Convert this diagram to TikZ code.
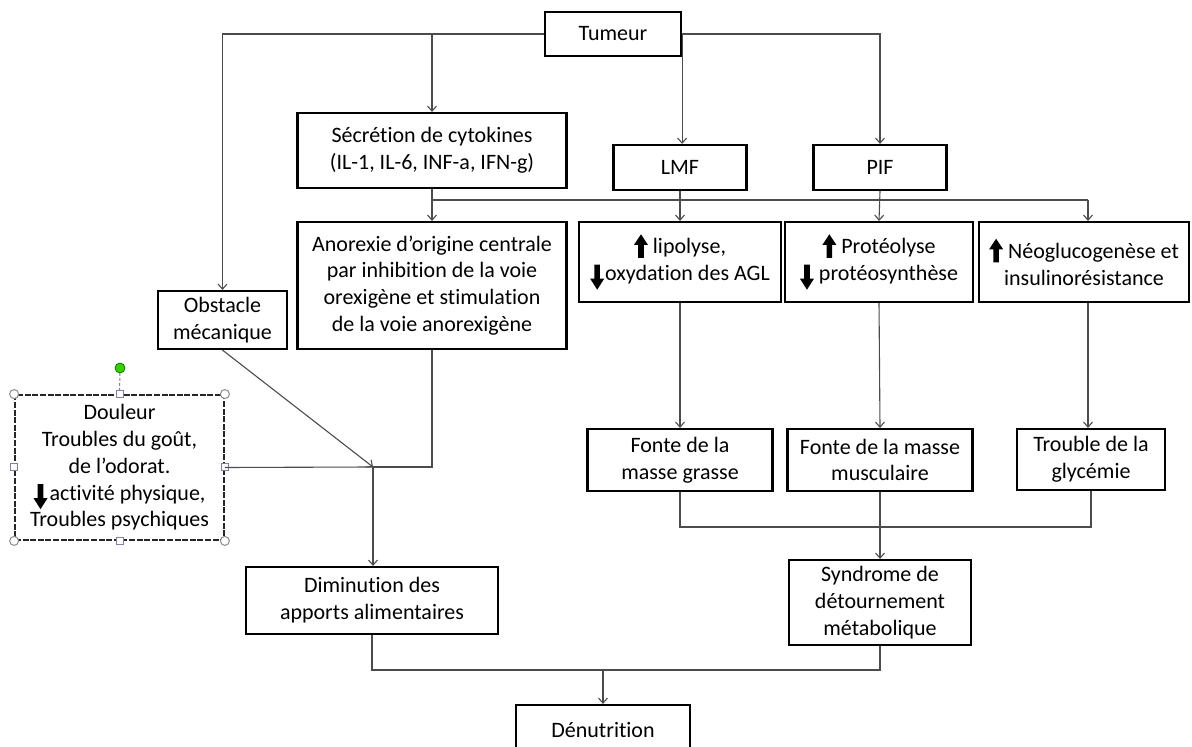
\documentclass[tikz,border=0pt]{standalone}
\usepackage{fontspec}
\setmainfont[Ligatures={NoCommon}]{Carlito}
\usetikzlibrary{arrows.meta}
\newcommand\upa{\tikz[baseline=0pt,x=1pt,y=1pt]\fill[black] (-1.4,-2)--(1.4,-2)--(1.4,4.5)--(3.5,4.5)--(0,9.8)--(-3.5,4.5)--(-1.4,4.5)--cycle;}
\newcommand\dna{\tikz[baseline=0pt,x=1pt,y=1pt]\fill[black] (-1.4,8)--(1.4,8)--(1.4,1)--(3.5,1)--(0,-4.5)--(-3.5,1)--(-1.4,1)--cycle;}
\begin{document}
\begin{tikzpicture}[x=0.5pt,y=-0.5pt,
  box/.style={draw=black,line width=1.1pt,fill=white,align=center,inner sep=0pt,
    font=\fontsize{11}{13.4}\selectfont},
  line/.style={draw=black!70,line width=0.55pt},
  conn/.style={line,-{Straight Barb[length=2.5pt,width=4.5pt]}},
  handle/.style={draw=black!45,fill=white,line width=0.5pt,circle,inner sep=0pt,minimum size=4.5pt},
  shandle/.style={draw=blue!30!black!50,fill=white,line width=0.5pt,rectangle,inner sep=0pt,minimum size=3.5pt}]
\useasboundingbox (0,0) rectangle (1192,747);
\clip (0,0) rectangle (1192,747);
\fill[white] (0,0) rectangle (1192,747);

% nodes
\node[box,minimum width=68pt,minimum height=22pt] (tum) at (613,34) {Tumeur};
\node[box,minimum width=134.5pt,minimum height=37.5pt] (cyt) at (432,150.5) {Sécrétion de cytokines\\(IL-1, IL-6, INF-a, IFN-g)};
\node[box,minimum width=66.5pt,minimum height=22.5pt] (lmf) at (680,167.5) {LMF};
\node[box,minimum width=66.5pt,minimum height=22.5pt] (pif) at (880,167.5) {PIF};
\node[box,minimum width=134.5pt,minimum height=63.5pt] (ano) at (432,285.5) {Anorexie d’origine centrale\\par inhibition de la voie\\orexigène et stimulation\\de la voie anorexigène};
\node[box,minimum width=64.5pt,minimum height=29pt] (obs) at (222.5,320) {Obstacle\\mécanique};
\node[box,minimum width=101pt,minimum height=40pt] (lip) at (680,262) {\upa\ lipolyse,\\\dna\kern0.5pt oxydation des AGL};
\node[box,minimum width=94pt,minimum height=40pt] (pro) at (879,262) {\upa\ Protéolyse\\\dna\ protéosynthèse};
\node[box,minimum width=105pt,minimum height=40pt] (neo) at (1084,262) {\upa\ Néoglucogenèse et\\insulinorésistance};
\node[box,minimum width=92.5pt,minimum height=31pt] (fg) at (680,460) {Fonte de la\\masse grasse};
\node[box,minimum width=92.5pt,minimum height=31pt] (fm) at (880,460) {Fonte de la masse\\musculaire};
\node[box,minimum width=74pt,minimum height=30.5pt] (tg) at (1091,459.5) {Trouble de la\\glycémie};
\node[box,minimum width=91pt,minimum height=42.5pt] (syn) at (880,602.5) {Syndrome de\\détournement\\métabolique};
\node[box,minimum width=126pt,minimum height=33.5pt] (dim) at (372,600.5) {Diminution des\\apports alimentaires};
\node[box,minimum width=87pt,minimum height=25pt] (den) at (603,730) {Dénutrition};
\node[box,draw=black!85,line width=0.9pt,dash pattern=on 3pt off 0.8pt,minimum width=104.5pt,minimum height=72.5pt] (dou) at (119.5,467.5)
  {Douleur\\Troubles du goût,\\de l’odorat.\\\dna\kern1pt activité physique,\\Troubles psychiques};

% selection handles of the Douleur box
\coordinate (rot) at (120,368);
\draw[draw=blue!30!black!50,line width=0.5pt,dash pattern=on 1.5pt off 1pt] (rot) -- (dou.north);
\node[circle,draw=green!50!black,fill=green!60!lime!80!black,line width=0.4pt,inner sep=0pt,minimum size=5pt] (rotk) at (rot) {};
\foreach \a in {north west,north east,south west,south east}
  \node[handle] at (dou.\a) {};
\foreach \a in {north,south,east,west}
  \node[shandle] at (dou.\a) {};

% connectors from Tumeur
\draw[conn] (tum.west) -| (obs.north);
\draw[conn] (tum.west -| cyt.north) -- (cyt.north);
\draw[conn] (tum.east) -| (pif.north);
\draw[conn] (tum.east) -- (tum.east |- lmf.north);

% horizontal distribution line
\coordinate (hl) at (432,200);
\coordinate (hr) at (1088,200);
\draw[line] (hl) -- (hr);
\draw[conn] (cyt.south) -- (ano.north);
\draw[conn] (lmf.south) -- (lip.north);
\draw[conn] (pif.south) -- (pro.north);
\draw[conn] (hr) -- (hr |- neo.north);

% second row
\draw[conn] (lip.south) -- (fg.north);
\draw[conn] (pro.south) -- (fm.north);
\draw[conn] (hr |- neo.south) -- (hr |- tg.north);

% to syndrome
\coordinate (jb) at (880,527);
\draw[line] (fg.south) |- (jb);
\draw[line] (tg.south) |- (jb);
\draw[conn] (fm.south) -- (syn.north);

% left junction
\coordinate (J) at (373,467);
\draw[line] (dou.east) -- (J);
\draw[line] (ano.south) |- (J);
\draw[conn] (obs.south) -- (J);
\draw[conn] (J) -- (J |- dim.north);

% to Denutrition
\coordinate (jd) at (603,670);
\draw[line] (dim.south) |- (jd);
\draw[line] (syn.south) |- (jd);
\draw[conn] (jd) -- (den.north);
\end{tikzpicture}
\end{document}
